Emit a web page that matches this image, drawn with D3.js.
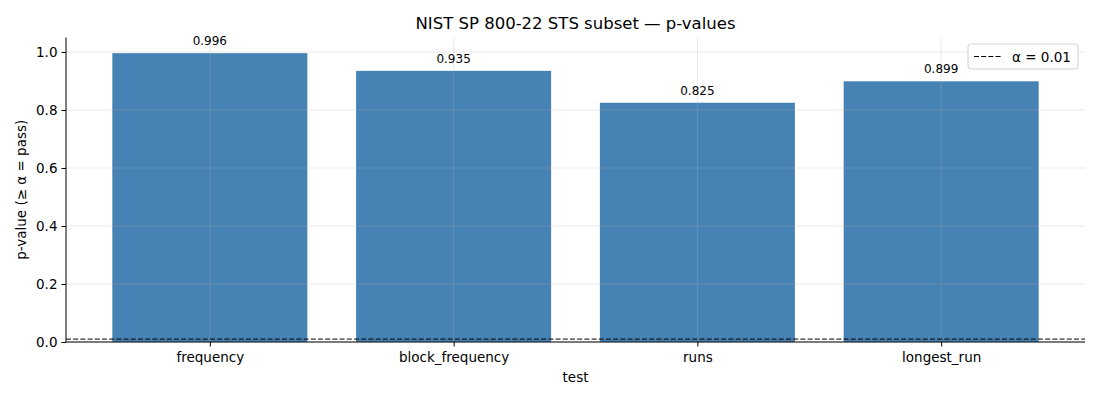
<!DOCTYPE html>
<html>
<head>
<meta charset="utf-8">
<script src="https://cdn.jsdelivr.net/npm/d3@7"></script>
<style>
  body { margin: 0; background: #fff; }
  text { font-family: "DejaVu Sans", sans-serif; fill: #000; }
</style>
</head>
<body>
<div id="chart"></div>
<script>
let tests = ["frequency", "block_frequency", "runs", "longest_run"];
let pvalues = [0.996, 0.935, 0.825, 0.899];
let yTicks = [0.0, 0.2, 0.4, 0.6, 0.8, 1.0];
let alpha = 0.01;

let W = 1100, H = 400;
let mLeft = 66, mRight = 1085, mTop = 37.5, mBottom = 342;

let svg = d3.select("#chart").append("svg")
  .attr("width", W).attr("height", H);

let x = d3.scaleLinear().domain([-0.59, tests.length - 1 + 0.59]).range([mLeft, mRight]);
let y = d3.scaleLinear().domain([0, 1.05]).range([mBottom, mTop]);
let bw = x(0.4) - x(-0.4);

// bars
svg.selectAll("rect.bar").data(pvalues).enter().append("rect")
  .attr("class", "bar")
  .attr("x", (d, i) => x(i) - bw / 2)
  .attr("y", d => y(d))
  .attr("width", bw)
  .attr("height", d => y(0) - y(d))
  .style("fill", "steelblue");

// grid (drawn over bars)
let grid = svg.append("g").attr("stroke", "#b0b0b0").attr("stroke-opacity", 0.35).attr("stroke-width", 0.8);
grid.selectAll("line.gy").data(yTicks).enter().append("line")
  .attr("x1", mLeft).attr("x2", mRight)
  .attr("y1", d => y(d)).attr("y2", d => y(d));
grid.selectAll("line.gx").data(tests).enter().append("line")
  .attr("x1", (d, i) => x(i)).attr("x2", (d, i) => x(i))
  .attr("y1", mTop).attr("y2", mBottom);

// alpha line
svg.append("line")
  .attr("x1", mLeft).attr("x2", mRight)
  .attr("y1", y(alpha)).attr("y2", y(alpha))
  .attr("stroke", "#000").attr("stroke-width", 1)
  .attr("stroke-dasharray", "5,2.2");

// value labels
svg.selectAll("text.val").data(pvalues).enter().append("text")
  .attr("x", (d, i) => x(i))
  .attr("y", d => y(d) - 8)
  .attr("text-anchor", "middle")
  .style("font-size", "12px")
  .text(d => d.toFixed(3));

// axes
let yAxis = d3.axisLeft(y).tickValues(yTicks).tickFormat(d3.format(".1f")).tickSize(4.5).tickPadding(4);
let gy = svg.append("g").attr("transform", `translate(${mLeft},0)`).call(yAxis);
gy.select(".domain").attr("d", `M0,${mTop}V${mBottom}`);

let xAxis = d3.axisBottom(x).tickValues(d3.range(tests.length)).tickFormat(i => tests[i]).tickSize(4.5).tickPadding(5.5);
let gx = svg.append("g").attr("transform", `translate(0,${mBottom})`).call(xAxis);
gx.select(".domain").attr("d", `M${mLeft},0H${mRight}`);

svg.selectAll(".tick text").style("font-size", "13.5px").style("font-family", "DejaVu Sans");
svg.selectAll(".domain, .tick line").attr("stroke", "#000").attr("stroke-width", 1);

// labels
svg.append("text").attr("x", (mLeft + mRight) / 2).attr("y", 29)
  .attr("text-anchor", "middle").style("font-size", "16.5px")
  .text("NIST SP 800-22 STS subset — p-values");
svg.append("text").attr("x", (mLeft + mRight) / 2).attr("y", 382)
  .attr("text-anchor", "middle").style("font-size", "13.5px")
  .text("test");
svg.append("text")
  .attr("transform", `translate(26,${(mTop + mBottom) / 2}) rotate(-90)`)
  .attr("text-anchor", "middle").style("font-size", "13.5px")
  .text("p-value (≥ α = pass)");

// legend
let lg = svg.append("g").attr("transform", "translate(968,44)");
lg.append("rect").attr("width", 110).attr("height", 25).attr("rx", 3)
  .attr("fill", "#fff").attr("fill-opacity", 0.8)
  .attr("stroke", "#d0d0d0");
lg.append("line").attr("x1", 6).attr("x2", 33).attr("y1", 12.5).attr("y2", 12.5)
  .attr("stroke", "#000").attr("stroke-width", 1).attr("stroke-dasharray", "5,2.2");
lg.append("text").attr("x", 44).attr("y", 17.5).style("font-size", "13.5px").text("α = 0.01");
</script>
</body>
</html>
